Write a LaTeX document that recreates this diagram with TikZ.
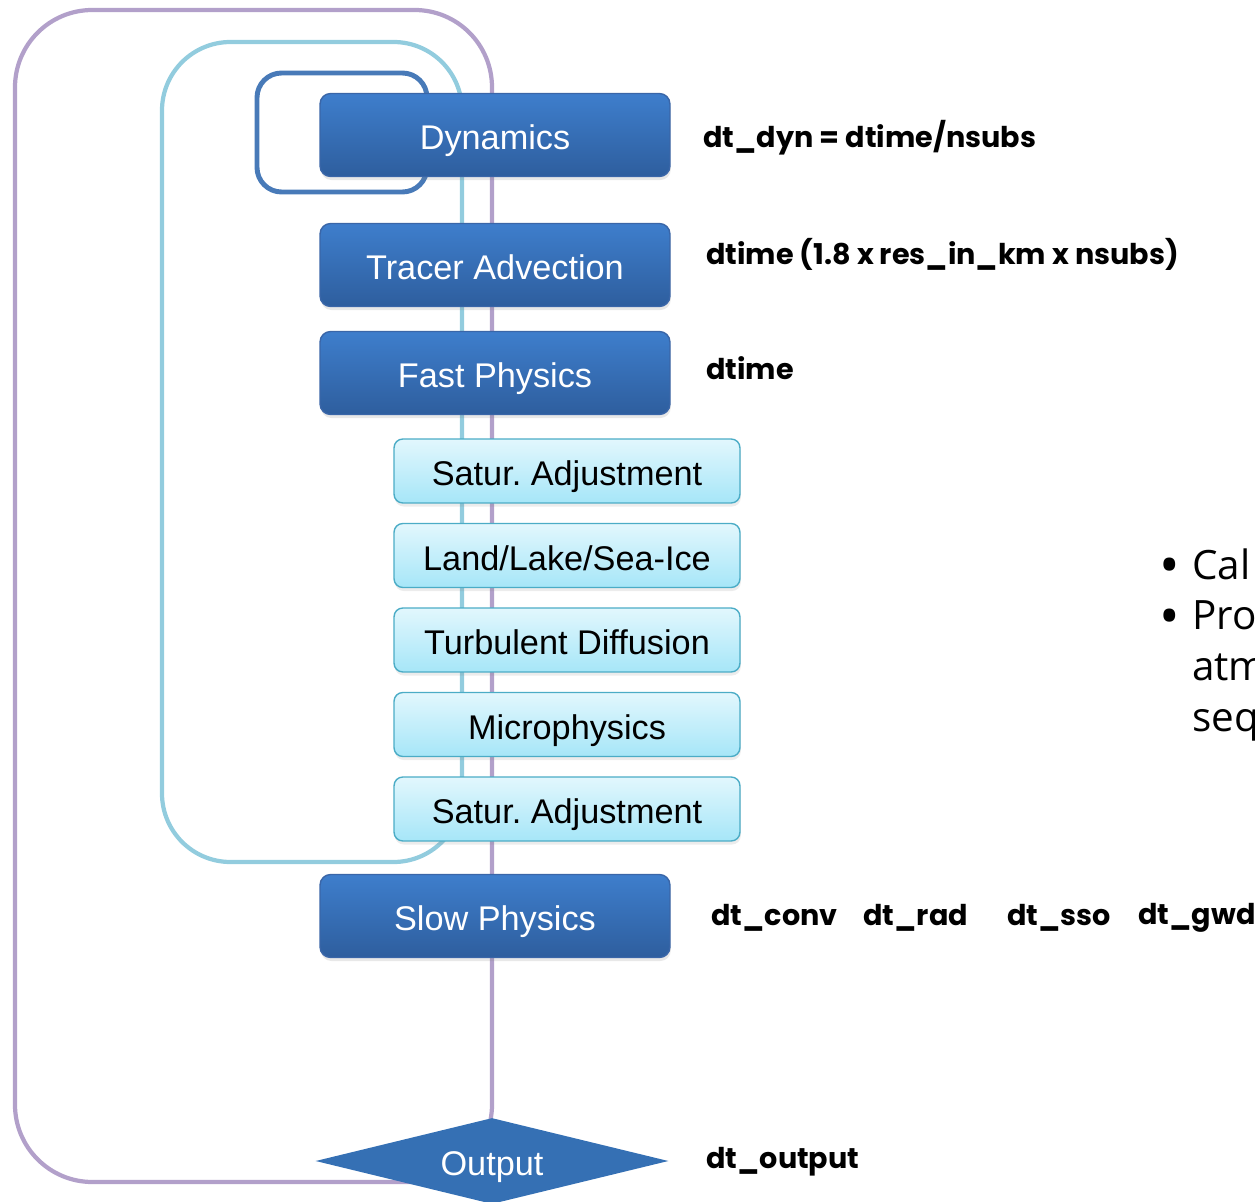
\documentclass[tikz,border=0pt]{standalone}
\usepackage{fontspec}
\setmainfont{Liberation Sans}
\newfontfamily\labelfont{Poppins}
\newfontfamily\notefont{Open Sans}
\usepackage{xcolor}
\definecolor{loopPurple}{RGB}{178,160,202}
\definecolor{loopTeal}{RGB}{146,204,222}
\definecolor{loopBlue}{RGB}{72,122,184}
\definecolor{stepTop}{RGB}{62,126,204}
\definecolor{stepBot}{RGB}{46,94,158}
\definecolor{stepLine}{RGB}{58,102,168}
\definecolor{subTop}{RGB}{226,247,253}
\definecolor{subBot}{RGB}{166,230,248}
\definecolor{subLine}{RGB}{75,172,198}
\definecolor{outBlue}{RGB}{53,112,180}
\usetikzlibrary{
  shapes.geometric,
  shadows
}
\frenchspacing
\tikzset{
  stepbox/.style={
    draw=stepLine,
    line width=0.8pt,
    top color=stepTop,
    bottom color=stepBot,
    rounded corners=6pt,
    minimum width=7cm,
    minimum height=1.66cm,
    inner sep=0pt,
    text height=17pt,
    text depth=0pt,
    text=white,
    font=\fontsize{19.5}{22}\selectfont,
    drop shadow={opacity=0.18, shadow xshift=0.5pt, shadow yshift=-2pt}
  },
  subbox/.style={
    draw=subLine,
    line width=0.8pt,
    top color=subTop,
    bottom color=subBot,
    rounded corners=5pt,
    minimum width=6.92cm,
    minimum height=1.28cm,
    inner sep=0pt,
    text height=17pt,
    text depth=0pt,
    text=black,
    font=\fontsize{19.5}{22}\selectfont,
    drop shadow={opacity=0.15, shadow xshift=0.5pt, shadow yshift=-2pt}
  },
  outdiamond/.style={
    diamond,
    fill=outBlue,
    aspect=4.1,
    minimum width=7.06cm,
    minimum height=1.72cm,
    inner sep=0pt,
    text height=17pt,
    text depth=0pt,
    text=white,
    font=\fontsize{19.5}{22}\selectfont
  },
  looppath/.style={line width=#1},
  dtlabel/.style={anchor=west, inner sep=0pt, font=\labelfont\bfseries\fontsize{16.3}{20}\selectfont}
}
\newcommand{\notebullet}{\raisebox{-3pt}{\scalebox{1.35}{\textbullet}}}

\begin{document}
\begin{tikzpicture}[x=0.02cm, y=-0.02cm]
  \useasboundingbox (0,0) rectangle (1255,1202);

  % loops behind the boxes
  \draw[looppath=2.4pt, loopPurple, rounded corners=44pt] (15,10) rectangle (492,1182);
  \draw[looppath=2.4pt, loopTeal, rounded corners=39pt] (162,42) rectangle (462,862);
  \draw[looppath=2.8pt, loopBlue, rounded corners=14pt] (257,73) rectangle (427,192);

  % main steps
  \node[stepbox] (dyn) at (495,135) {Dynamics};
  \node[stepbox] (tracer) at (495,265) {Tracer Advection};
  \node[stepbox] (fast) at (495,373) {Fast Physics};
  \node[stepbox] (slow) at (495,916) {Slow Physics};

  % fast physics parts
  \node[subbox] (satA) at (567,471) {Satur. Adjustment};
  \node[subbox] (land) at (567,555.5) {Land/Lake/Sea-Ice};
  \node[subbox] (turb) at (567,640) {Turbulent Diffusion};
  \node[subbox] (micro) at (567,724.5) {Microphysics};
  \node[subbox] (satB) at (567,809) {Satur. Adjustment};

  \node[outdiamond] (out) at (492,1161) {Output};

  % time steps
  \node[dtlabel] (dtdyn) at (703,138) {dt\_dyn = dtime/nsubs};
  \node[dtlabel] (dttracer) at (706,254) {dtime (1.8 x res\_in\_km x nsubs)};
  \node[dtlabel] (dtfast) at (706,368) {dtime};
  \node[dtlabel] (dtconv) at (711,918) {dt\_conv};
  \node[dtlabel] (dtrad) at (863,918) {dt\_rad};
  \node[dtlabel] (dtsso) at (1007,918) {dt\_sso};
  \node[dtlabel] (dtgwd) at (1138,918) {dt\_gwd};
  \node[dtlabel] (dtout) at (706,1162) {dt\_output};

  % notes, cut at the edge
  \node[anchor=north west, inner sep=0pt, font=\notefont\fontsize{23}{29}\selectfont] (notes) at (1159,543)
    {\begin{tabular}{@{}l@{\hspace{7pt}}l@{}}
      \notebullet & Cal\\
      \notebullet & Pro\\
       & atm\\
       & seq
     \end{tabular}};
\end{tikzpicture}
\end{document}
